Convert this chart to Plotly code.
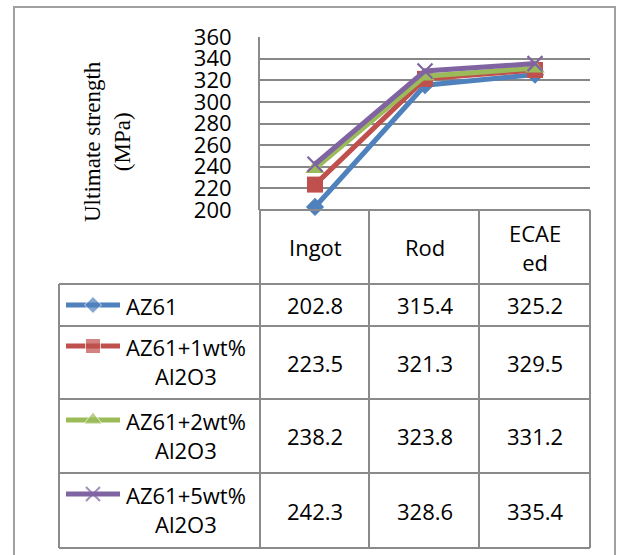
import plotly.graph_objects as go

# ---------------- data ----------------
categories = ["Ingot", "Rod", "ECAEed"]
header_labels = ["Ingot", "Rod", "ECAE<br>ed"]
series_names = ["AZ61", "AZ61+1wt% Al2O3", "AZ61+2wt% Al2O3", "AZ61+5wt% Al2O3"]
series_labels = ["AZ61", "AZ61+1wt%<br>Al2O3", "AZ61+2wt%<br>Al2O3", "AZ61+5wt%<br>Al2O3"]
az61 = [202.8, 315.4, 325.2]
az61_1wt = [223.5, 321.3, 329.5]
az61_2wt = [238.2, 323.8, 331.2]
az61_5wt = [242.3, 328.6, 335.4]
y_ticks = [200, 220, 240, 260, 280, 300, 320, 340, 360]
y_title = "Ultimate strength<br>(MPa)"

series_values = [az61, az61_1wt, az61_2wt, az61_5wt]

# ---------------- styles ----------------
W, H = 619, 555
colors = ["#4F81BD", "#C0504D", "#9BBB59", "#8064A2"]
symbols = ["diamond", "square", "triangle-up", "x-thin"]
msizes = [14, 16, 17, 15]
SANS = "Open Sans"
SERIF = "Liberation Serif"
GRID = "#878787"
TBL = "#8a8a8a"

plot_l, plot_r, plot_t, plot_b = 260, 590, 37, 210
col_edges = [260, 369, 479, 590]
leg_l = 59
row_edges = [284, 326, 399, 473, 548]
key_y = [305, 346, 420, 494]

fig = go.Figure()

x_idx = list(range(len(categories)))
for name, vals, c, s, ms in zip(series_names, series_values, colors, symbols, msizes):
    marker = dict(symbol=s, size=ms, color=c)
    if s == "x-thin":
        marker["line"] = dict(width=2.2, color=c)
    fig.add_trace(go.Scatter(
        x=x_idx, y=vals, mode="lines+markers", name=name,
        line=dict(color=c, width=5), marker=marker, cliponaxis=False,
        showlegend=False, xaxis="x", yaxis="y"))

# legend keys inside the data table (pixel overlay axes)
for i, (c, s, ms) in enumerate(zip(colors, symbols, msizes)):
    marker = dict(symbol=s, size=[0, ms - 1, 0], color=c)
    if s == "x-thin":
        marker["line"] = dict(width=2.2, color=c)
    fig.add_trace(go.Scatter(
        x=[66, 93, 120], y=[key_y[i]] * 3, mode="lines+markers",
        line=dict(color=c, width=5), marker=marker, cliponaxis=False,
        showlegend=False, hoverinfo="skip", xaxis="x2", yaxis="y2"))

shapes = []
def hline(y, x0, x1, color=TBL, w=2):
    shapes.append(dict(type="line", xref="x2", yref="y2", x0=x0, x1=x1, y0=y, y1=y,
                       line=dict(color=color, width=w)))
def vline(x, y0, y1, color=TBL, w=2):
    shapes.append(dict(type="line", xref="x2", yref="y2", x0=x, x1=x, y0=y0, y1=y1,
                       line=dict(color=color, width=w)))

# outer chart border
vline(14, 7, 556, "#a0a0a0", 2)
hline(7, 13, 616, "#a0a0a0", 2)
vline(615, 7, 556, "#a0a0a0", 2)

# data table grid
hline(plot_b, col_edges[0], col_edges[-1])
for x in col_edges:
    vline(x, plot_b, row_edges[-1])
vline(leg_l, row_edges[0], row_edges[-1])
for y in row_edges:
    hline(y, leg_l, col_edges[-1])

annotations = []
# header
for i, lab in enumerate(header_labels):
    annotations.append(dict(x=i, y=247, xref="x", yref="y2", text=lab, showarrow=False,
                            font=dict(family=SANS, size=22, color="#000"),
                            xanchor="center", yanchor="middle", align="center"))
# rows
for r, (lab, vals) in enumerate(zip(series_labels, series_values)):
    yc = (row_edges[r] + row_edges[r + 1]) / 2
    annotations.append(dict(x=124, y=key_y[r] - 16, xref="x2", yref="y2", text=lab, showarrow=False,
                            font=dict(family=SANS, size=22, color="#000"),
                            xanchor="left", yanchor="top", align="center"))
    for i, v in enumerate(vals):
        annotations.append(dict(x=i, y=yc, xref="x", yref="y2", text=f"{v:.1f}", showarrow=False,
                                font=dict(family=SANS, size=22, color="#000"),
                                xanchor="center", yanchor="middle"))
# y title
annotations.append(dict(x=107, y=142, xref="x2", yref="y2", text=y_title, showarrow=False,
                        textangle=-90, font=dict(family=SERIF, size=23, color="#000"),
                        xanchor="center", yanchor="middle", align="center"))

fig.update_layout(
    width=W, height=H, margin=dict(l=0, r=0, t=0, b=0, pad=0, autoexpand=False),
    paper_bgcolor="white", plot_bgcolor="rgba(0,0,0,0)",
    xaxis=dict(domain=[plot_l / W, plot_r / W], range=[-0.5, 2.5], showgrid=False,
               showticklabels=False, zeroline=False, showline=False, fixedrange=True,
               automargin=False),
    yaxis=dict(domain=[1 - plot_b / H, 1 - plot_t / H], range=[200, 360], tickvals=y_ticks,
               showgrid=True, gridcolor=GRID, gridwidth=1.5, zeroline=False,
               showline=True, linecolor=TBL, linewidth=2, automargin=False,
               tickfont=dict(family=SANS, size=22, color="#000"), ticks="",
               ticklabelstandoff=22),
    xaxis2=dict(domain=[0, 1], range=[0, W], visible=False, anchor="y2", fixedrange=True,
                automargin=False),
    yaxis2=dict(domain=[0, 1], range=[H, 0], visible=False, anchor="x2", fixedrange=True,
                automargin=False),
    shapes=shapes, annotations=annotations, showlegend=False,
)

fig.write_html("out.html")
